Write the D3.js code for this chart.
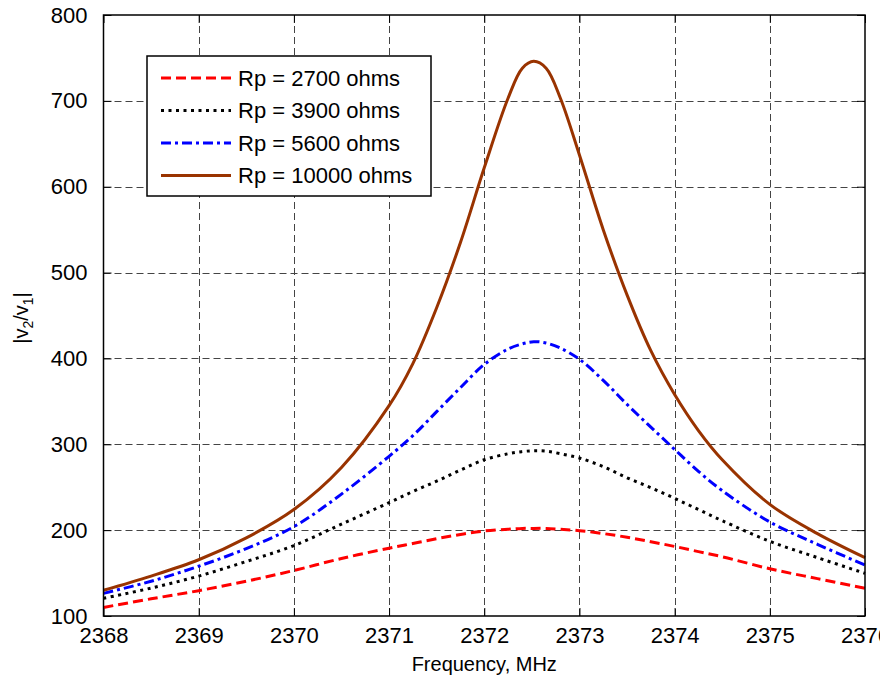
<!DOCTYPE html>
<html>
<head>
<meta charset="utf-8">
<script src="https://cdn.jsdelivr.net/npm/d3@7"></script>
<style>
  body { margin: 0; background: #fff; }
  svg text { font-family: Arial, "Liberation Sans", sans-serif; fill: #000; }
</style>
</head>
<body>
<svg id="chart" width="880" height="682"></svg>
<script>
// values (frequency in MHz, |v2/v1|)
const freqs = [2368, 2368.5, 2369, 2369.5, 2370, 2370.5, 2371, 2371.25, 2371.5, 2371.75,
  2372, 2372.25, 2372.4, 2372.52, 2372.65, 2372.8, 2373, 2373.25, 2373.5, 2373.75,
  2374, 2374.25, 2374.5, 2375, 2375.5, 2376];

const rp2700 = [110, 120, 129.5, 140.5, 153, 167, 179, 184.5, 190, 195,
  199, 201, 202, 202, 202, 201, 199.4, 196, 191.7, 186.5,
  181, 175, 169, 155, 143.5, 132.3];
const rp3900 = [120.6, 132.5, 146.5, 163.5, 182, 207, 232, 245, 257, 270,
  282, 289, 291.5, 292.5, 292, 289, 284, 274, 261, 249.5,
  237, 224, 211, 187, 168, 149.7];
const rp5600 = [126.4, 140.5, 158, 178.5, 204, 242, 286, 310, 338, 366,
  393, 411, 417, 419.5, 418, 412, 399, 374.5, 346.5, 320,
  294, 268.5, 246, 209.5, 183.5, 159.4];
const rp10000 = [130, 146.5, 165.5, 191, 224, 273, 345, 394, 459, 535,
  622, 703, 738, 746, 738, 703, 637, 550, 474, 409,
  358, 316, 282, 230, 196, 168];

const seriesNames = ["Rp = 2700 ohms", "Rp = 3900 ohms", "Rp = 5600 ohms", "Rp = 10000 ohms"];
const seriesValues = [rp2700, rp3900, rp5600, rp10000];
const seriesColors = ["#ff0000", "#000000", "#0000ff", "#993300"];
const seriesDash = ["10,5", "3,4.5", "10,4,3,4", null];

const xTicks = [2368, 2369, 2370, 2371, 2372, 2373, 2374, 2375, 2376];
const yTicks = [100, 200, 300, 400, 500, 600, 700, 800];

const dims = { left: 103.5, right: 865, top: 15, bottom: 616 };

const svg = d3.select("#chart");

const x = d3.scaleLinear().domain([2368, 2376]).range([dims.left, dims.right]);
const y = d3.scaleLinear().domain([100, 800]).range([dims.bottom, dims.top]);

// grid
const gGrid = svg.append("g").attr("class", "grid-g")
  .attr("stroke", "#444").attr("stroke-width", 1).attr("stroke-dasharray", "7,4");
gGrid.selectAll(".gx")
  .data(xTicks.slice(1, -1))
  .join("line")
  .attr("x1", (d) => Math.round(x(d)) + 0.5).attr("x2", (d) => Math.round(x(d)) + 0.5)
  .attr("y1", dims.top).attr("y2", dims.bottom);
gGrid.selectAll(".gy")
  .data(yTicks.slice(1, -1))
  .join("line")
  .attr("y1", (d) => Math.round(y(d)) + 0.5).attr("y2", (d) => Math.round(y(d)) + 0.5)
  .attr("x1", dims.left).attr("x2", dims.right);

// axes, ticks inside on all four sides
const tickLen = 8;
svg.append("g")
  .attr("transform", `translate(0,${dims.bottom})`)
  .call(d3.axisBottom(x).tickValues(xTicks).tickFormat(d3.format("d")).tickSizeInner(-tickLen).tickSizeOuter(0).tickPadding(14))
  .call((g) => g.select(".domain").remove())
  .call((g) => g.selectAll("text").attr("font-size", 22).attr("dy", "0.6em"));
svg.append("g")
  .attr("transform", `translate(0,${dims.top})`)
  .call(d3.axisTop(x).tickValues(xTicks).tickFormat("").tickSizeInner(-tickLen).tickSizeOuter(0))
  .call((g) => g.select(".domain").remove());
svg.append("g")
  .attr("transform", `translate(${dims.left},0)`)
  .call(d3.axisLeft(y).tickValues(yTicks).tickSizeInner(-tickLen).tickSizeOuter(0).tickPadding(16))
  .call((g) => g.select(".domain").remove())
  .call((g) => g.selectAll("text").attr("font-size", 22));
svg.append("g")
  .attr("transform", `translate(${dims.right},0)`)
  .call(d3.axisRight(y).tickValues(yTicks).tickFormat("").tickSizeInner(-tickLen).tickSizeOuter(0))
  .call((g) => g.select(".domain").remove());
svg.selectAll(".tick line").attr("stroke", "#000");

// curves
const line = d3.line()
  .x((d) => x(d[0]))
  .y((d) => y(d[1]))
  .curve(d3.curveCatmullRom.alpha(0.5));

svg.append("g").attr("class", "lines-g")
  .selectAll("path")
  .data(seriesValues)
  .join("path")
  .attr("fill", "none")
  .attr("stroke", (d, i) => seriesColors[i])
  .attr("stroke-width", 3)
  .attr("stroke-dasharray", (d, i) => seriesDash[i])
  .attr("d", (vals) => line(vals.map((v, i) => [freqs[i], v])));

// plot frame
svg.append("rect")
  .attr("x", dims.left).attr("y", dims.top)
  .attr("width", dims.right - dims.left).attr("height", dims.bottom - dims.top)
  .attr("fill", "none").attr("stroke", "#000").attr("stroke-width", 1.5);

// legend
const legend = svg.append("g").attr("class", "legend-g").attr("transform", "translate(147,56)");
legend.append("rect")
  .attr("width", 284).attr("height", 140)
  .attr("fill", "#fff").attr("stroke", "#000").attr("stroke-width", 1.5);
const rows = legend.selectAll(".row")
  .data(seriesNames)
  .join("g")
  .attr("class", "row")
  .attr("transform", (d, i) => `translate(0,${22 + i * 32.5})`);
rows.append("line")
  .attr("x1", 14).attr("x2", 84)
  .attr("stroke", (d, i) => seriesColors[i])
  .attr("stroke-width", 3)
  .attr("stroke-dasharray", (d, i) => seriesDash[i]);
rows.append("text")
  .attr("x", 91).attr("dy", "0.36em")
  .attr("font-size", 22)
  .text((d) => d);

// axis titles
svg.append("text")
  .attr("x", (dims.left + dims.right) / 2).attr("y", 671)
  .attr("text-anchor", "middle").attr("font-size", 20)
  .text("Frequency, MHz");

const yTitle = svg.append("text")
  .attr("transform", "translate(28,318) rotate(-90)")
  .attr("text-anchor", "middle").attr("font-size", 20);
yTitle.append("tspan").text("|v");
yTitle.append("tspan").attr("font-size", 14).attr("dy", 5).text("2");
yTitle.append("tspan").attr("dy", -5).text("/v");
yTitle.append("tspan").attr("font-size", 14).attr("dy", 5).text("1");
yTitle.append("tspan").attr("dy", -5).text("|");
</script>
</body>
</html>
